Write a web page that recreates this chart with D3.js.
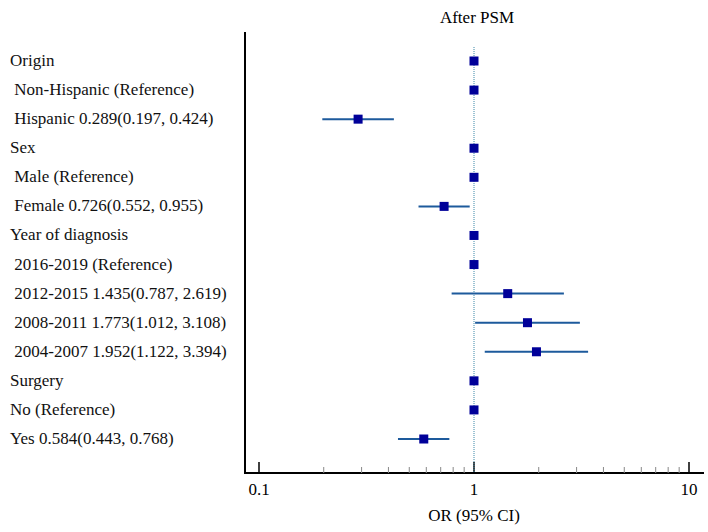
<!DOCTYPE html>
<html>
<head>
<meta charset="utf-8">
<script src="https://cdn.jsdelivr.net/npm/d3@7"></script>
<style>
body { margin: 0; background: #fff; }
</style>
</head>
<body>
<script>
// row labels, top to bottom
var labels = ["Origin", " Non-Hispanic (Reference)", " Hispanic 0.289(0.197, 0.424)",
	"Sex", " Male (Reference)", " Female 0.726(0.552, 0.955)",
	"Year of diagnosis", " 2016-2019 (Reference)", " 2012-2015 1.435(0.787, 2.619)",
	" 2008-2011 1.773(1.012, 3.108)", " 2004-2007 1.952(1.122, 3.394)",
	"Surgery", "No (Reference)", "Yes 0.584(0.443, 0.768)"];
var or = [1, 1, 0.289, 1, 1, 0.726, 1, 1, 1.435, 1.773, 1.952, 1, 1, 0.584];
var lower = [null, null, 0.197, null, null, 0.552, null, null, 0.787, 1.012, 1.122, null, null, 0.443];
var upper = [null, null, 0.424, null, null, 0.955, null, null, 2.619, 3.108, 3.394, null, null, 0.768];
var tickVals = [0.1, 1, 10];

var font = "'Liberation Serif'";

var svg = d3.select("body").append("svg")
	.attr("width", 708)
	.attr("height", 532);

var x = d3.scaleLog().domain([0.1, 10]).range([259, 689]);
var y = d3.scaleLinear().domain([0, labels.length - 1]).range([61, 439]);

// left axis line
svg.append("line")
	.attr("x1", 245).attr("x2", 245)
	.attr("y1", 32).attr("y2", 473)
	.attr("stroke", "#000").attr("stroke-width", 2);

// bottom axis
var minor = [];
[0.1, 1].forEach(function (d) {
	for (var k = 2; k < 10; k++) minor.push(d * k);
});
svg.append("line")
	.attr("x1", 244).attr("x2", 704)
	.attr("y1", 473).attr("y2", 473)
	.attr("stroke", "#000").attr("stroke-width", 2);
svg.selectAll(".minor").data(minor).enter().append("line")
	.attr("x1", d => x(d)).attr("x2", d => x(d))
	.attr("y1", 467).attr("y2", 473)
	.attr("stroke", "#888").attr("stroke-width", 1);
svg.selectAll(".major").data(tickVals).enter().append("line")
	.attr("x1", d => x(d)).attr("x2", d => x(d))
	.attr("y1", 462).attr("y2", 473)
	.attr("stroke", "#000").attr("stroke-width", 1.5);
svg.selectAll(".tl").data(tickVals).enter().append("text")
	.attr("x", d => x(d)).attr("y", 495)
	.attr("text-anchor", "middle")
	.style("font-family", font)
	.style("font-size", "17px")
	.text(d => d);

svg.append("text").attr("x", 474).attr("y", 521)
	.attr("text-anchor", "middle")
	.style("font-family", font).style("font-size", "17px")
	.text("OR (95% CI)");
svg.append("text").attr("x", 477).attr("y", 23)
	.attr("text-anchor", "middle")
	.style("font-family", font).style("font-size", "17px")
	.text("After PSM");

// reference line at OR = 1
svg.append("line")
	.attr("x1", x(1)).attr("x2", x(1))
	.attr("y1", 47).attr("y2", 473)
	.attr("stroke", "#3d88a8").attr("stroke-width", 1)
	.attr("stroke-dasharray", "1,1");

var rows = labels.map(function (d, i) {
	return { label: d, or: or[i], lo: lower[i], hi: upper[i], i: i };
});

svg.selectAll(".lab").data(rows).enter().append("text")
	.attr("x", 10).attr("y", d => y(d.i) + 5)
	.style("font-family", font)
	.style("font-size", "17px")
	.style("white-space", "pre")
	.attr("fill", "#111")
	.text(d => d.label);

svg.selectAll(".ci").data(rows.filter(d => d.lo != null)).enter().append("line")
	.attr("x1", d => x(d.lo)).attr("x2", d => x(d.hi))
	.attr("y1", d => y(d.i)).attr("y2", d => y(d.i))
	.attr("stroke", "#1d5a9c").attr("stroke-width", 2);

svg.selectAll(".pt").data(rows).enter().append("rect")
	.attr("x", d => x(d.or) - 4.5).attr("y", d => y(d.i) - 4.5)
	.attr("width", 9).attr("height", 9)
	.attr("fill", "#000099");
</script>
</body>
</html>
